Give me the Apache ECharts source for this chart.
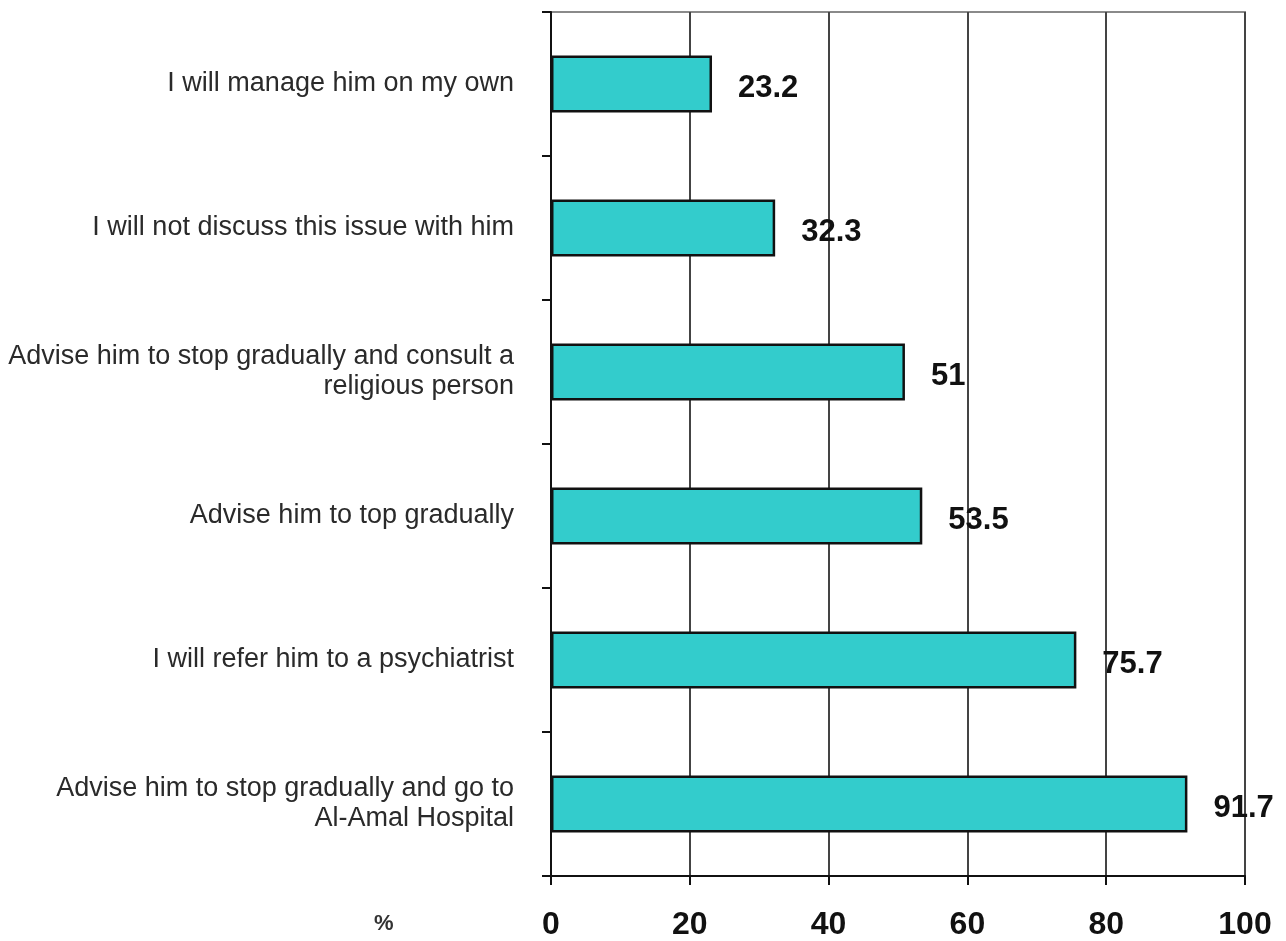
<!DOCTYPE html>
<html>
<head>
<meta charset="utf-8">
<script src="https://cdn.jsdelivr.net/npm/echarts@6/dist/echarts.min.js"></script>
<style>
html,body{margin:0;padding:0;background:#fff;}
#chart{width:1286px;height:941px;}
</style>
</head>
<body>
<div id="chart"></div>
<script>
const categories = [
  "I will manage him on my own",
  "I will not discuss this issue with him",
  "Advise him to stop gradually and consult a\nreligious person",
  "Advise him to top gradually",
  "I will refer him to a psychiatrist",
  "Advise him to stop gradually and go to\nAl-Amal Hospital"
];
const values = [23.2, 32.3, 51, 53.5, 75.7, 91.7];
const xTicks = { min: 0, max: 100, interval: 20 };
const axisUnit = "%";

const chart = echarts.init(document.getElementById('chart'), null, { renderer: 'canvas' });
chart.setOption({
  backgroundColor: '#ffffff',
  animation: false,
  textStyle: { fontFamily: 'Liberation Sans, Arial, sans-serif' },
  grid: {
    left: 551, right: 41, top: 12, bottom: 63,
    show: true, borderColor: '#8a8a8a', borderWidth: 2, backgroundColor: 'transparent'
  },
  graphic: [{
    type: 'text',
    left: 374, top: 913,
    style: { text: axisUnit, fontSize: 22, fontWeight: 'bold', fill: '#333', fontFamily: 'Liberation Sans, Arial, sans-serif' }
  }],
  xAxis: {
    type: 'value',
    min: xTicks.min, max: xTicks.max, interval: xTicks.interval,
    axisLine: { show: true, lineStyle: { color: '#111', width: 2 } },
    axisTick: { show: true, length: 9, lineStyle: { color: '#111', width: 2 } },
    axisLabel: { margin: 33, fontSize: 32, fontWeight: 'bold', color: '#111', fontFamily: 'Liberation Sans, Arial, sans-serif' },
    splitLine: { show: true, lineStyle: { color: '#444', width: 2 } }
  },
  yAxis: {
    type: 'category',
    data: categories,
    inverse: true,
    axisLine: { show: true, lineStyle: { color: '#111', width: 2 } },
    axisTick: { show: true, length: 9, lineStyle: { color: '#111', width: 2 } },
    axisLabel: {
      margin: 37, fontSize: 27, color: '#2a2a2a', align: 'right', lineHeight: 30,
      fontFamily: 'Liberation Sans, Arial, sans-serif'
    },
    splitLine: { show: false }
  },
  series: [{
    type: 'bar',
    data: values,
    barWidth: 57,
    itemStyle: { color: '#33CCCC', borderColor: '#111', borderWidth: 2.5 },
    label: {
      show: true, position: 'right', distance: 26, offset: [0, 4],
      fontSize: 31, fontWeight: 'bold', color: '#111',
      fontFamily: 'Liberation Sans, Arial, sans-serif'
    }
  }]
});
</script>
</body>
</html>
